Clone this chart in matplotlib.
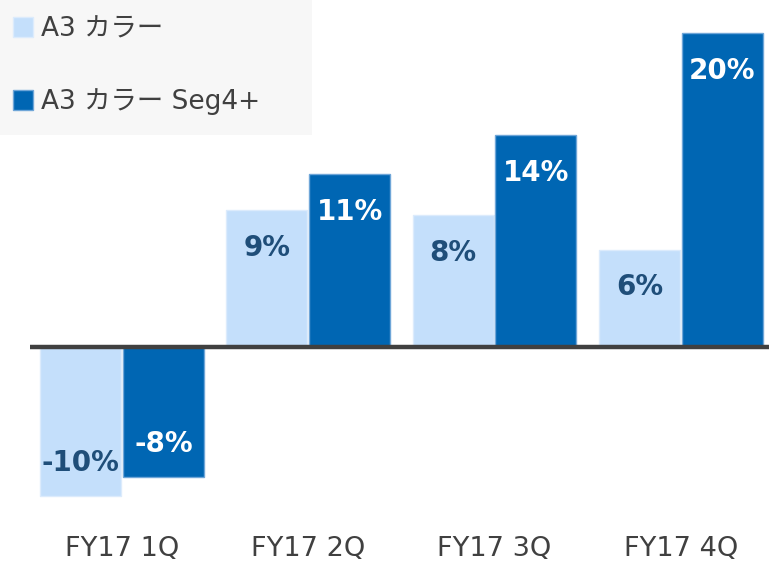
import matplotlib
matplotlib.use("Agg")
import matplotlib.pyplot as plt
from matplotlib.patches import Rectangle, Patch
import numpy as np

# data
quarters = ["FY17 1Q", "FY17 2Q", "FY17 3Q", "FY17 4Q"]
a3_color = [-9.5, 8.7, 8.4, 6.2]
a3_seg4 = [-8.3, 11.0, 13.5, 20.0]
a3_color_labels = ["-10%", "9%", "8%", "6%"]
a3_seg4_labels = ["-8%", "11%", "14%", "20%"]
series_names = ["A3 カラー", "A3 カラー Seg4+"]

light = "#C4DFFB"
dark = "#0066B3"
txt_font = ["DejaVu Sans", "Noto Sans CJK JP"]

W, H = 769, 566
fig = plt.figure(figsize=(W / 100, H / 100), dpi=100)

# axes placed in pixel terms: x 30..769, y 20..510 (from top)
ax = fig.add_axes([30 / W, 1 - 510 / H, (W - 30) / W, (510 - 20) / H])

x = np.arange(len(quarters))
bw = 0.435
off = 0.222
b1 = ax.bar(x - off, a3_color, bw, color=light, edgecolor="#DCEBFC", linewidth=1.0, zorder=2)
b2 = ax.bar(x + off, a3_seg4, bw, color=dark, edgecolor="#6FA6D8", linewidth=1.0, zorder=2)

ax.axhline(0, color="#404040", lw=3.2, zorder=3)

ax.set_xlim(-0.494, 3.473)
ax.set_ylim(-10.38, 20.83)

for bars, labels, tcol in [(b1, a3_color_labels, "#1F4E79"), (b2, a3_seg4_labels, "white")]:
    for rect, lab in zip(bars, labels):
        v = rect.get_height() if rect.get_y() >= 0 else rect.get_y()
        xc = rect.get_x() + rect.get_width() / 2
        dy = -27 if v > 0 else 24
        ax.annotate(lab, (xc, v), xytext=(0, dy), textcoords="offset points",
                    ha="center", va="center", fontsize=20, fontweight="bold",
                    color=tcol, family="DejaVu Sans", zorder=4)

ax.set_xticks(x)
ax.set_xticklabels(quarters, family=txt_font, fontsize=19.5, color="#404040")
ax.tick_params(axis="x", length=0, pad=19)
ax.set_yticks([])
for s in ax.spines.values():
    s.set_visible(False)

# legend with grey background block
fig.patches.append(Rectangle((0, 1 - 135 / H), 312 / W, 135 / H, transform=fig.transFigure,
                             facecolor="#F7F7F7", edgecolor="none", zorder=0))
handles = [Patch(facecolor=light, edgecolor="#DCEBFC"), Patch(facecolor=dark, edgecolor="#6FA6D8")]
fig.legend(handles, series_names, loc="upper left", bbox_to_anchor=(0.0, 1.0 - 3 / H),
           frameon=False, prop={"family": txt_font, "size": 19}, labelcolor="#404040",
           handlelength=0.75, handleheight=0.75, handletextpad=0.3, labelspacing=1.75,
           borderaxespad=0.1)

fig.savefig("out.png", dpi=100)
